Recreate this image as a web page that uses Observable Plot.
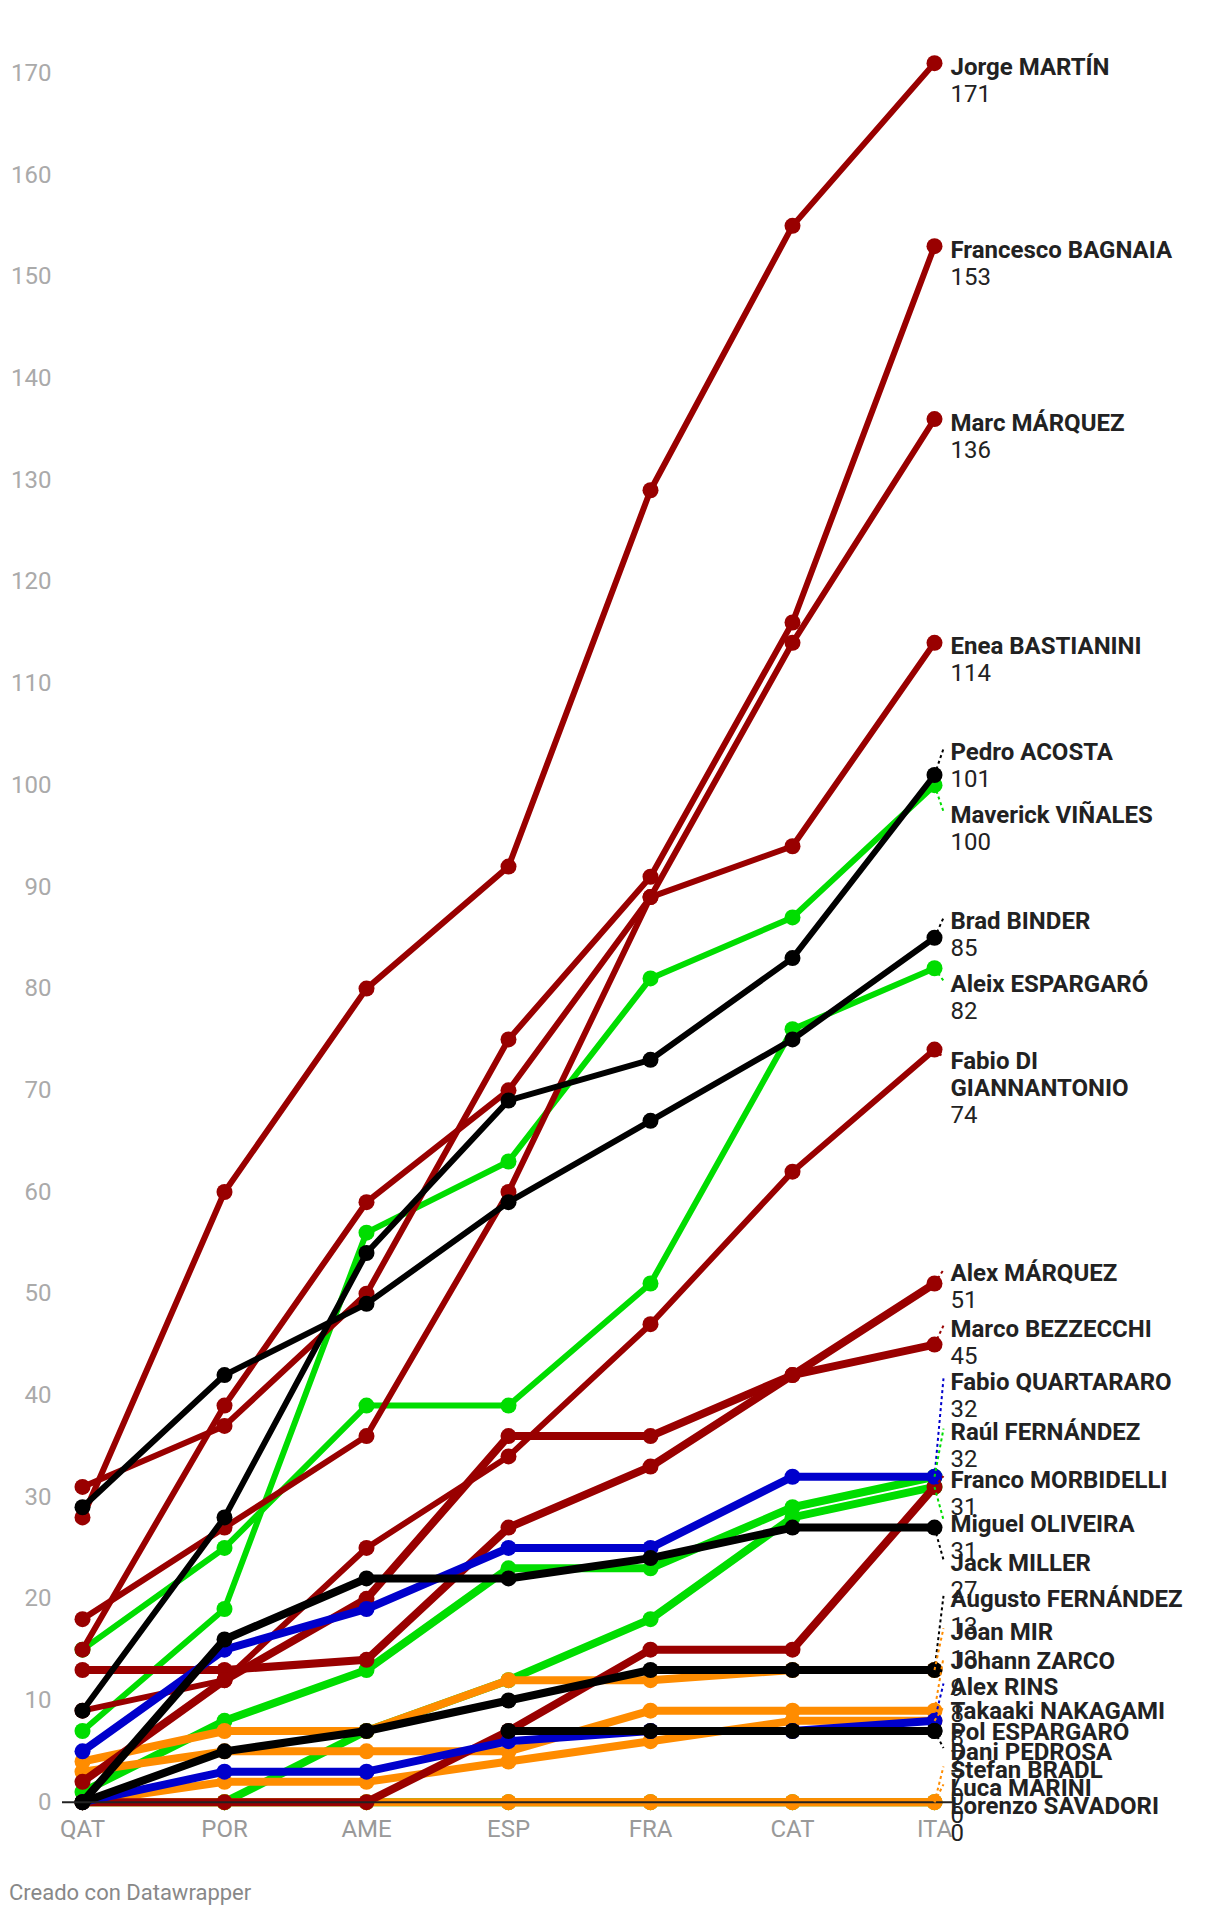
<!DOCTYPE html>
<html>
<head>
<meta charset="utf-8">
<script src="https://cdn.jsdelivr.net/npm/d3@7"></script>
<script src="https://cdn.jsdelivr.net/npm/@observablehq/plot@0.6"></script>
<style>
  html, body { margin: 0; padding: 0; background: #fff; }
  body { font-family: Roboto, "Noto Sans", sans-serif; width: 1220px; }
  #caption { font-family: Roboto, sans-serif; font-size: 22px; color: #888; margin: 10px 0 0 9px; }
</style>
</head>
<body>
<div id="chart"></div>
<div id="caption">Creado con Datawrapper</div>
<script>
// ---- data ----
const races = ["QAT", "POR", "AME", "ESP", "FRA", "CAT", "ITA"];

const riders = [
  "Jorge MARTÍN", "Francesco BAGNAIA", "Marc MÁRQUEZ", "Enea BASTIANINI", "Pedro ACOSTA",
  "Maverick VIÑALES", "Brad BINDER", "Aleix ESPARGARÓ", "Fabio DI\nGIANNANTONIO", "Alex MÁRQUEZ",
  "Marco BEZZECCHI", "Fabio QUARTARARO", "Raúl FERNÁNDEZ", "Franco MORBIDELLI", "Miguel OLIVEIRA",
  "Jack MILLER", "Augusto FERNÁNDEZ", "Joan MIR", "Johann ZARCO", "Alex RINS",
  "Takaaki NAKAGAMI", "Pol ESPARGARÓ", "Dani PEDROSA", "Stefan BRADL", "Luca MARINI",
  "Lorenzo SAVADORI"
];
const makers = [
  "Ducati", "Ducati", "Ducati", "Ducati", "KTM",
  "Aprilia", "KTM", "Aprilia", "Ducati", "Ducati",
  "Ducati", "Yamaha", "Aprilia", "Ducati", "Aprilia",
  "KTM", "KTM", "Honda", "Honda", "Yamaha",
  "Honda", "KTM", "KTM", "Honda", "Honda",
  "Aprilia"
];

const martin      = [28, 60, 80, 92, 129, 155, 171];
const bagnaia     = [31, 37, 50, 75, 91, 116, 153];
const marquez     = [18, 27, 36, 60, 89, 114, 136];
const bastianini  = [15, 39, 59, 70, 89, 94, 114];
const acosta      = [9, 28, 54, 69, 73, 83, 101];
const vinales     = [7, 19, 56, 63, 81, 87, 100];
const binder      = [29, 42, 49, 59, 67, 75, 85];
const aespargaro  = [15, 25, 39, 39, 51, 76, 82];
const diggia      = [9, 12, 25, 34, 47, 62, 74];
const amarquez    = [13, 13, 14, 27, 33, 42, 51];
const bezzecchi   = [2, 12, 20, 36, 36, 42, 45];
const quartararo  = [5, 15, 19, 25, 25, 32, 32];
const rfernandez  = [1, 8, 13, 23, 23, 29, 32];
const morbidelli  = [0, 0, 0, 7, 15, 15, 31];
const oliveira    = [0, 0, 7, 12, 18, 28, 31];
const miller      = [0, 16, 22, 22, 24, 27, 27];
const afernandez  = [0, 5, 7, 10, 13, 13, 13];
const mir         = [4, 7, 7, 12, 12, 13, 13];
const zarco       = [3, 5, 5, 5, 9, 9, 9];
const rins        = [0, 3, 3, 6, 7, 7, 8];
const nakagami    = [0, 2, 2, 4, 6, 8, 8];
const pespargaro  = [null, null, null, null, null, null, 7];
const pedrosa     = [null, null, null, 7, 7, 7, 7];
const bradl       = [null, null, null, 0, 0, 0, 0];
const marini      = [0, 0, 0, 0, 0, 0, 0];
const savadori    = [null, 0, 0, 0, 0, 0, 0];

const series = [martin, bagnaia, marquez, bastianini, acosta, vinales, binder, aespargaro, diggia,
  amarquez, bezzecchi, quartararo, rfernandez, morbidelli, oliveira, miller, afernandez, mir, zarco,
  rins, nakagami, pespargaro, pedrosa, bradl, marini, savadori];

const yTicks = [0, 10, 20, 30, 40, 50, 60, 70, 80, 90, 100, 110, 120, 130, 140, 150, 160, 170];

// ---- styles ----
const makerColor = {Ducati: "#990000", KTM: "#000000", Aprilia: "#00dd00", Yamaha: "#0000cc", Honda: "#ff8c00"};
const drawOrder = ["Aprilia", "Honda", "Ducati", "Yamaha", "KTM"];
const widthFor = (rank) => rank < 9 ? 6 : 8;
const FS = 24;

const W = 1220, H = 1870, MT = 72.8, MB = 68.3, ML = 82, MR = 286;
const yPx = d3.scaleLinear([0, 170], [H - MB, MT]);
const xPx = d3.scaleLinear([0, races.length - 1], [ML, W - MR]);
const last = races.length - 1;

// rows
const rows = [];
riders.forEach((r, k) => {
  series[k].forEach((v, i) => rows.push({rider: r, k, maker: makers[k], i, v}));
});

// ---- label placement (iterative relaxation) ----
const LINE = 27, GAP = 9, SWEEPS = 8;
const labels = riders.map((r, k) => {
  const v = series[k][last];
  const n = r.split("\n").length;
  return {k, name: r, v, n, h: (n + 1) * LINE, anchor: yPx(v), y: yPx(v)};
}).sort((a, b) => a.anchor - b.anchor || a.k - b.k);
const yMax = yPx(0), yMin = 20;
for (let s = 0; s < SWEEPS; s++) {
  for (let j = 0; j < labels.length - 1; j++) {
    const a = labels[j], b = labels[j + 1];
    const need = (a.h + b.h) / 2 + GAP;
    const d = b.y - a.y;
    if (d < need) { const o = (need - d) / 2; a.y -= o; b.y += o; }
  }
  for (const l of labels) l.y = Math.max(yMin, Math.min(yMax, l.y));
}
labels.forEach(l => { l.ly = yPx.invert(l.y); l.color = makerColor[makers[l.k]]; });
const leaders = labels.filter(l => Math.abs(l.y - l.anchor) > 3);
const leaderDx = 9 / (xPx(1) - xPx(0));

// ---- marks ----
const marks = [];
for (const m of drawOrder) {
  const ks = riders.map((r, k) => k).filter(k => makers[k] === m).reverse();
  for (const k of ks) {
    const data = rows.filter(d => d.k === k);
    marks.push(Plot.line(data, {x: "i", y: "v", stroke: makerColor[m], strokeWidth: widthFor(k),
      strokeLinejoin: "round", strokeLinecap: "round"}));
    marks.push(Plot.dot(data.filter(d => d.v != null), {x: "i", y: "v", r: 8, fill: makerColor[m], stroke: "none"}));
  }
}

const chart = Plot.plot({
  width: W, height: H,
  marginTop: MT, marginBottom: MB, marginLeft: ML, marginRight: MR,
  style: {fontFamily: "Roboto, sans-serif", fontSize: FS + "px", background: "#fff", overflow: "visible"},
  x: {type: "linear", domain: [0, last], axis: null},
  y: {domain: [0, 170], axis: null},
  marks: [
    Plot.axisY({ticks: yTicks, tickSize: 0, tickPadding: 31, color: "#aaaaaa", fontSize: FS, label: null, tickFormat: d => String(d)}),
    Plot.axisX({ticks: d3.range(races.length), tickSize: 0, tickPadding: 18, color: "#999999", fontSize: FS, label: null, tickFormat: i => races[i]}),
    ...marks,
    Plot.ruleY([0], {stroke: "#222", strokeWidth: 2, insetLeft: -20, insetRight: -19}),
    Plot.link(leaders, {x1: () => last, y1: d => d.v, x2: () => last + leaderDx, y2: d => d.ly,
      stroke: d => d.color, strokeWidth: 2, strokeDasharray: "3,3"}),
    Plot.text(labels, {x: () => last, y: d => d.ly, text: d => d.name, dx: 16, dy: -7.5,
      lineAnchor: "top", textAnchor: "start", fontWeight: "bold", fontSize: FS, lineHeight: LINE / FS, fill: "#222"}),
    Plot.text(labels, {x: () => last, y: d => d.ly, text: d => "\n".repeat(d.n) + d.v, dx: 16, dy: -7.5,
      lineAnchor: "top", textAnchor: "start", fontSize: FS, lineHeight: LINE / FS, fill: "#222"})
  ]
});
document.getElementById("chart").appendChild(chart);
</script>
</body>
</html>
